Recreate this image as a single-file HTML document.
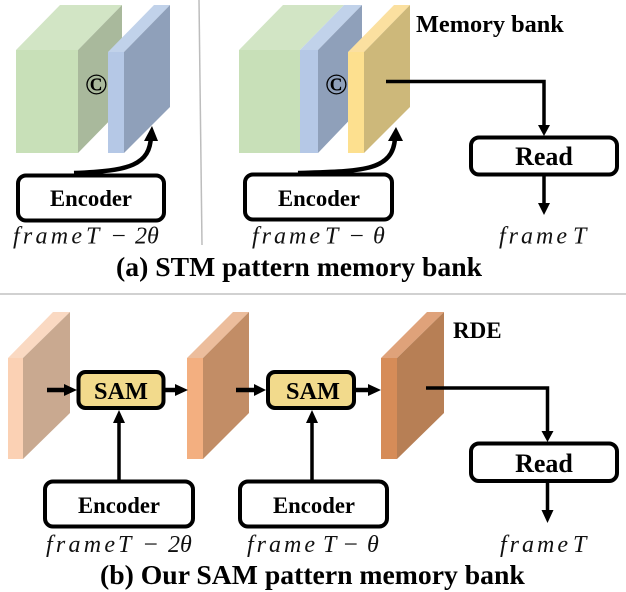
<!DOCTYPE html>
<html><head><meta charset="utf-8"><style>
html,body{margin:0;padding:0;background:#fff}
svg{display:block;filter:blur(.3px)}
.b{font-family:"Liberation Serif",serif;font-weight:bold;fill:#000}
.m{font-family:"Liberation Serif",serif;font-style:italic;fill:#111;font-size:24px}
.box{fill:#fff;stroke:#000;stroke-width:4}
.sam{fill:#f2da8c;stroke:#000;stroke-width:4}
.l{fill:none;stroke:#000;stroke-width:3.5}
.h{fill:none;stroke:#000;stroke-width:4.5}
.c{fill:none;stroke:#000;stroke-width:4.5}
</style></head><body>
<svg width="626" height="592" viewBox="0 0 626 592" xmlns="http://www.w3.org/2000/svg">
<line x1="199" y1="0" x2="202" y2="245" stroke="#bdbdbd" stroke-width="1.5"/>
<line x1="0" y1="294" x2="626" y2="294" stroke="#c2c2c2" stroke-width="1.5"/>

<!-- left stack -->
<polygon points="16,50 60,5 122,5 78,50" fill="#d2e5c5"/>
<rect x="16" y="50" width="62" height="103" fill="#c8e0b8"/>
<polygon points="78,50 122,5 122,108 78,153" fill="#a9b99c"/>
<polygon points="108,52 154,5 170,5 124,52" fill="#c1d2ea"/>
<rect x="108" y="52" width="16" height="101" fill="#b5c8e6"/>
<polygon points="124,52 170,5 170,107 124,153" fill="#8fa0ba"/>
<text class="b" x="85" y="94" font-size="30">©</text>
<path class="c" d="M74 173C130 171 150 165 151 136"/>
<polygon points="144,141 152,126 158,141" fill="#000"/>
<rect class="box" x="18" y="175.500" width="146" height="45" rx="8"/>
<text class="b" x="91" y="206" font-size="22.700" text-anchor="middle">Encoder</text>
<text class="m" x="13" y="243.500" textLength="69" lengthAdjust="spacing">frame</text>
<text class="m" x="86" y="243.500">T</text>
<text class="m" x="110" y="243.500" textLength="17" lengthAdjust="spacingAndGlyphs">−</text>
<text class="m" x="135" y="243.500">2θ</text>

<!-- right stack -->
<polygon points="239,50 283,5 344,5 300,50" fill="#d2e5c5"/>
<rect x="239" y="50" width="61" height="103" fill="#c8e0b8"/>
<polygon points="300,50 344,5 362,5 318,50" fill="#c1d2ea"/>
<rect x="300" y="50" width="18" height="103" fill="#b5c8e6"/>
<polygon points="318,50 362,5 362,107 318,153" fill="#8fa0ba"/>
<polygon points="348,52 394,5 410,5 364,52" fill="#fbe0a0"/>
<rect x="348" y="52" width="16" height="101" fill="#fde08f"/>
<polygon points="364,52 410,5 410,107 364,153" fill="#cdb87a"/>
<text class="b" x="325" y="94" font-size="30">©</text>
<text class="b" x="416" y="32" font-size="24.300">Memory bank</text>
<path class="c" d="M298 173C360 171 393 172 395 138"/>
<polygon points="388,141 396,127 403,141" fill="#000"/>
<rect class="box" x="245" y="174.500" width="147" height="45" rx="8"/>
<text class="b" x="319" y="206" font-size="22.700" text-anchor="middle">Encoder</text>
<text class="m" x="252" y="243.500" textLength="68" lengthAdjust="spacing">frame</text>
<text class="m" x="325" y="243.500">T</text>
<text class="m" x="348" y="243.500" textLength="17" lengthAdjust="spacingAndGlyphs">−</text>
<text class="m" x="373" y="243.500">θ</text>
<path class="l" d="M386 81.500H544V126"/>
<polygon points="538,125 550,125 544,136" fill="#000"/>
<rect class="box" x="471" y="137.500" width="146" height="37" rx="8"/>
<text class="b" x="544" y="165" font-size="26" text-anchor="middle">Read</text>
<line class="l" x1="544" y1="175" x2="544" y2="204"/>
<polygon points="538,203 550,203 544,215" fill="#000"/>
<text class="m" x="499" y="243.500" textLength="68" lengthAdjust="spacing">frame</text>
<text class="m" x="573" y="243.500">T</text>

<text class="b" x="116" y="276" font-size="27.700">(a) STM pattern memory bank</text>

<!-- bottom panels -->
<polygon points="8,358 53,312 70,312 23,358" fill="#fad9c2"/>
<rect x="8" y="358" width="15" height="101" fill="#fbd1b4"/>
<polygon points="23,358 70,312 70,413 23,459" fill="#c9a990"/>
<polygon points="187,358 233,312 249,312 203,358" fill="#ecbd9c"/>
<rect x="187" y="358" width="16" height="101" fill="#f3af80"/>
<polygon points="203,358 249,312 249,413 203,459" fill="#c28d66"/>
<polygon points="381,358 427,312 444,312 397,358" fill="#dfa27a"/>
<rect x="381" y="358" width="16" height="101" fill="#d68c58"/>
<polygon points="397,358 444,312 444,413 397,459" fill="#b77f55"/>
<text class="b" x="453" y="338" font-size="23">RDE</text>

<line class="h" x1="47" y1="390" x2="68" y2="390"/>
<polygon points="64,384 77,390 64,396" fill="#000"/>
<rect class="sam" x="78.500" y="372" width="85" height="36" rx="7"/>
<text class="b" x="121" y="399" font-size="24.300" text-anchor="middle">SAM</text>
<line class="h" x1="165" y1="390" x2="177" y2="390"/>
<polygon points="175,384 188,390 175,396" fill="#000"/>
<line class="l" x1="119" y1="481" x2="119" y2="420"/>
<polygon points="113,423 119,410 125,423" fill="#000"/>
<rect class="box" x="45" y="481.500" width="148" height="45" rx="8"/>
<text class="b" x="119" y="513" font-size="22.700" text-anchor="middle">Encoder</text>
<text class="m" x="46" y="552" textLength="69" lengthAdjust="spacing">frame</text>
<text class="m" x="118" y="552">T</text>
<text class="m" x="142" y="552" textLength="17" lengthAdjust="spacingAndGlyphs">−</text>
<text class="m" x="168" y="552">2θ</text>

<line class="h" x1="236" y1="390" x2="257" y2="390"/>
<polygon points="254,384 266,390 254,396" fill="#000"/>
<rect class="sam" x="268" y="372" width="86" height="36" rx="7"/>
<text class="b" x="313" y="399" font-size="24.300" text-anchor="middle">SAM</text>
<line class="h" x1="356" y1="390" x2="371" y2="390"/>
<polygon points="368,384 381,390 368,396" fill="#000"/>
<line class="l" x1="312" y1="481" x2="312" y2="420"/>
<polygon points="306,423 312,410 318,423" fill="#000"/>
<rect class="box" x="240" y="481.500" width="147" height="45" rx="8"/>
<text class="b" x="314" y="513" font-size="22.700" text-anchor="middle">Encoder</text>
<text class="m" x="247" y="552" textLength="68" lengthAdjust="spacing">frame</text>
<text class="m" x="323" y="552">T</text>
<text class="m" x="342" y="552" textLength="17" lengthAdjust="spacingAndGlyphs">−</text>
<text class="m" x="367" y="552">θ</text>

<path class="l" d="M426 388H547.500V432"/>
<polygon points="541.500,431 553.500,431 547.500,442" fill="#000"/>
<rect class="box" x="471" y="443.500" width="146" height="37.500" rx="8"/>
<text class="b" x="544" y="472" font-size="26" text-anchor="middle">Read</text>
<line class="l" x1="547.500" y1="482" x2="547.500" y2="511"/>
<polygon points="541.500,510 553.500,510 547.500,523" fill="#000"/>
<text class="m" x="500" y="552" textLength="68" lengthAdjust="spacing">frame</text>
<text class="m" x="573" y="552">T</text>

<text class="b" x="100" y="584" font-size="27.700">(b) Our SAM pattern memory bank</text>
</svg>
</body></html>
